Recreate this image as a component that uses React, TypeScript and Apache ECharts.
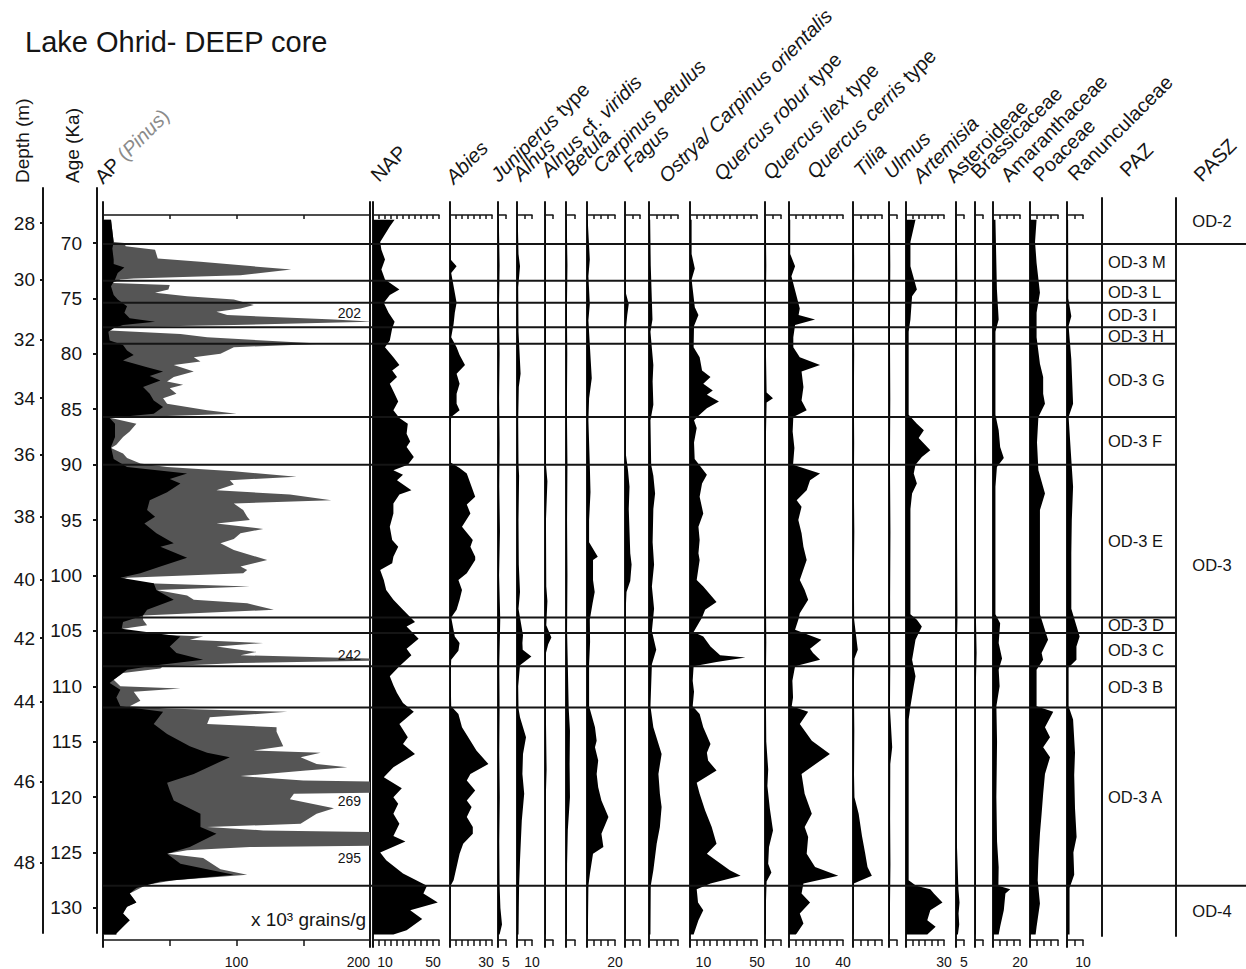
import React, { useEffect, useRef } from 'react';
import * as echarts from 'echarts';

type Sample = [number, number]; // [age (ka), value]

const CHART_TITLE = 'Lake Ohrid- DEEP core';

// ---- axes -------------------------------------------------------------
const AGE_TICKS = [70, 75, 80, 85, 90, 95, 100, 105, 110, 115, 120, 125, 130];
const DEPTH_TICKS = [28, 30, 32, 34, 36, 38, 40, 42, 44, 46, 48];
const DEPTH_TICK_AGES = [68.2, 73.3, 78.75, 84.0, 89.1, 94.7, 100.4, 105.65, 111.4, 118.6, 125.9];

// ---- zonation -------------------------------------------------------
const PAZ_BOUNDARIES = [70.1, 73.4, 75.4, 77.6, 79.1, 85.7, 90.0, 103.8, 105.2, 108.2, 111.9, 128.0];
const PAZ_NAMES = ['', 'OD-3 M', 'OD-3 L', 'OD-3 I', 'OD-3 H', 'OD-3 G', 'OD-3 F', 'OD-3 E', 'OD-3 D', 'OD-3 C', 'OD-3 B', 'OD-3 A', ''];
const PASZ_BOUNDARIES = [70.1, 128.0];
const PASZ_NAMES = ['OD-2', 'OD-3', 'OD-4'];

// ---- arboreal pollen concentration (x 10^3 grains/g) -------------------
const AP_TICK_LABELS = [100, 200];
const AP_TOTAL: Sample[] = [
  [67.9, 6], [69.9, 8], [70.0, 16], [70.3, 17], [70.6, 39], [71.4, 41], [71.7, 73], [72.4, 141], [72.9, 103],
  [73.2, 23], [73.3, 13], [73.6, 7], [73.8, 50], [74.2, 49], [74.5, 39], [74.8, 63], [75.1, 98], [75.6, 113],
  [75.9, 103], [76.2, 85], [76.5, 93], [76.9, 173], [77.1, 202], [77.4, 98], [77.6, 8], [77.9, 5], [78.2, 58],
  [78.5, 78], [79.1, 165], [79.4, 98], [80.0, 88], [80.3, 68], [80.7, 73], [81.0, 53], [81.6, 68], [82.1, 53],
  [82.5, 48], [82.8, 60], [83.1, 50], [83.6, 55], [84.0, 45], [84.5, 48], [85.1, 78], [85.4, 100], [85.6, 48],
  [85.8, 6], [86.3, 25], [87.0, 20], [87.5, 15], [88.2, 10], [88.5, 6], [89.0, 15], [89.4, 18], [89.9, 28],
  [90.2, 48], [90.6, 98], [91.1, 145], [91.4, 95], [91.8, 98], [92.3, 85], [92.7, 140], [93.2, 171], [93.5, 98],
  [94.1, 105], [94.7, 108], [95.0, 110], [95.3, 85], [95.8, 120], [96.2, 103], [96.7, 98], [97.1, 88], [97.7, 98],
  [98.6, 123], [99.2, 103], [99.5, 108], [99.8, 105], [100.2, 18], [100.4, 14], [100.7, 33], [101.0, 110],
  [101.3, 40], [101.8, 63], [102.2, 68], [102.5, 108], [103.1, 128], [103.6, 30], [104.0, 30], [104.5, 33],
  [104.8, 15], [105.2, 14], [105.5, 75], [105.8, 65], [106.1, 120], [106.4, 85], [106.9, 115], [107.2, 103],
  [107.6, 242], [107.9, 103], [108.2, 45], [108.4, 43], [108.8, 15], [109.4, 8], [110.0, 13], [110.2, 58],
  [110.5, 23], [111.3, 28], [111.8, 20], [112.0, 48], [112.3, 138], [112.8, 80], [113.4, 78], [113.7, 130],
  [114.1, 130], [115.4, 135], [115.8, 113], [116.0, 163], [116.4, 148], [117.0, 160], [117.3, 183], [117.6, 152],
  [118.1, 103], [118.5, 150], [118.7, 269], [119.5, 255], [119.7, 143], [120.2, 140], [121.0, 173], [121.5, 160],
  [122.4, 148], [122.7, 78], [123.0, 120], [123.3, 285], [123.8, 295], [124.3, 270], [124.5, 110], [124.8, 63],
  [125.1, 48], [125.5, 75], [126.5, 88], [127.0, 108], [127.5, 53], [127.9, 33], [128.2, 28], [128.7, 20],
  [129.5, 25], [129.9, 18], [130.5, 15], [131.1, 20], [131.7, 15], [132.3, 10], [132.4, 10],
];
const AP_WITHOUT_PINUS: Sample[] = [
  [67.9, 6], [69.9, 8], [70.5, 7], [71.5, 8], [71.9, 8], [72.2, 16], [72.7, 11], [73.3, 9], [73.9, 6], [74.7, 8],
  [75.1, 11], [75.7, 18], [76.3, 16], [76.8, 20], [77.1, 39], [77.4, 15], [77.7, 8], [78.0, 4], [78.8, 5],
  [79.2, 15], [79.7, 18], [80.1, 23], [80.6, 15], [81.2, 33], [81.6, 45], [82.0, 35], [82.4, 43], [83.0, 30],
  [83.6, 35], [84.2, 38], [84.8, 45], [85.4, 38], [85.8, 5], [86.3, 9], [87.5, 9], [88.4, 6], [89.5, 8],
  [90.2, 18], [90.8, 63], [91.3, 50], [91.7, 58], [92.5, 48], [93.2, 35], [94.1, 33], [94.7, 39], [95.3, 31],
  [96.2, 40], [97.1, 53], [97.4, 43], [98.4, 63], [99.2, 43], [99.8, 28], [100.2, 13], [100.7, 38], [101.3, 40],
  [102.2, 53], [103.1, 33], [103.6, 30], [104.2, 15], [104.8, 14], [105.5, 58], [106.4, 50], [107.0, 55],
  [107.6, 75], [108.1, 40], [108.5, 18], [109.4, 8], [109.7, 5], [110.3, 13], [111.0, 10], [111.8, 13],
  [112.3, 45], [113.4, 38], [114.3, 48], [115.4, 65], [116.0, 78], [116.4, 95], [117.9, 68], [118.7, 48],
  [119.4, 50], [120.3, 53], [121.5, 73], [122.7, 73], [123.3, 85], [124.5, 65], [125.1, 48], [126.0, 58],
  [127.0, 98], [127.6, 43], [128.2, 25], [128.7, 20], [129.5, 25], [129.9, 18], [130.5, 15], [131.1, 20],
  [131.7, 15], [132.3, 10], [132.4, 10],
];

// ---- taxa (%) ---------------------------------------------------------
const TAXA = [
  'NAP', 'Abies', 'Juniperus type', 'Alnus', 'Alnus cf. viridis', 'Betula', 'Carpinus betulus', 'Fagus',
  'Ostrya/ Carpinus orientalis', 'Quercus robur type', 'Quercus ilex type', 'Quercus cerris type', 'Tilia',
  'Ulmus', 'Artemisia', 'Asteroideae', 'Brassicaceae', 'Amaranthaceae', 'Poaceae', 'Ranunculaceae',
];
const TICK_LABELS: number[][] = [
  [10, 50], [30], [5], [10], [], [], [20], [], [], [10, 50], [], [10, 40], [], [], [30], [5], [], [20], [], [10],
];

const NAP: Sample[] = [
  [67.9, 18], [68.5, 14], [69.9, 6], [70.6, 7], [71.5, 10], [72.4, 7], [73.3, 10], [74.2, 22], [74.7, 14],
  [75.4, 9], [76.3, 13], [77.1, 18], [77.7, 16], [78.8, 14], [79.4, 10], [80.3, 17], [81.0, 22], [81.5, 16],
  [82.1, 20], [82.7, 14], [83.6, 18], [84.3, 21], [85.1, 17], [85.8, 22], [86.3, 29], [87.2, 28], [87.9, 31],
  [88.4, 28], [89.3, 34], [90.0, 29], [90.5, 17], [90.9, 25], [91.4, 20], [92.3, 32], [92.7, 22], [93.5, 17],
  [94.4, 17], [95.6, 14], [96.8, 16], [97.4, 21], [98.3, 17], [98.9, 16], [99.5, 6], [100.4, 9], [101.3, 11],
  [102.2, 17], [103.1, 25], [104.2, 35], [104.6, 28], [105.7, 38], [106.6, 28], [107.2, 32], [108.2, 22],
  [109.1, 14], [109.9, 17], [110.6, 20], [111.5, 25], [112.3, 34], [113.4, 22], [114.6, 29], [115.2, 25],
  [116.1, 35], [117.3, 17], [118.2, 9], [119.2, 24], [120.0, 17], [120.6, 21], [121.5, 17], [122.4, 22],
  [123.5, 17], [124.0, 27], [125.0, 6], [125.7, 11], [126.9, 25], [128.0, 45], [128.7, 42], [129.5, 54],
  [130.2, 31], [131.0, 41], [132.0, 28], [132.4, 17],
];
const ABIES: Sample[] = [
  [67.9, 0.3], [71.5, 0.5], [72.1, 5.5], [72.7, 1], [74.5, 4], [75.4, 5.5], [76.3, 4], [77.3, 3], [78.5, 1],
  [79.4, 5.5], [80.1, 8], [81.0, 12.5], [81.8, 5.5], [82.7, 8], [83.6, 5.5], [84.5, 5.5], [85.1, 8], [85.7, 1],
  [86.5, 0.5], [89.8, 0.5], [90.3, 8], [90.8, 14], [92.0, 18], [92.9, 21], [93.6, 14], [94.4, 17], [95.6, 10],
  [96.8, 19], [97.4, 17], [98.3, 21], [98.6, 21], [99.8, 14], [100.4, 7], [101.3, 10], [102.2, 8], [103.1, 5.5],
  [103.8, 1], [105.5, 4], [106.1, 8], [106.8, 7], [107.6, 1], [109.0, 0.5], [111.8, 1], [112.5, 7], [113.7, 10],
  [114.9, 17], [115.8, 22], [117.0, 32], [117.9, 17], [118.5, 14], [119.4, 21], [120.3, 14], [120.9, 18],
  [121.8, 14], [122.7, 19], [123.3, 19], [124.2, 11], [125.1, 8], [126.3, 5.5], [127.5, 3], [128.0, 0.5],
  [132.4, 0.3],
];
const JUNIPERUS: Sample[] = [
  [67.9, 0.5], [72, 1], [76, 0.6], [80, 1], [84, 0.7], [88, 1], [92, 0.8], [96, 1.2], [100, 0.7], [104, 1.4],
  [108, 0.8], [112, 1], [116, 0.8], [120, 1.1], [124, 0.8], [128, 1], [130, 1.5], [131.5, 2.5], [132.4, 1],
];
const ALNUS: Sample[] = [
  [67.9, 0.5], [71, 1], [72.1, 2], [74, 0.8], [78, 1], [81.8, 2.4], [83, 1.2], [86, 0.8], [90, 1], [91, 1.4],
  [95, 1], [99, 1.2], [101.5, 2], [103, 1], [105.4, 4], [106.1, 3.6], [106.7, 3.8], [107.3, 9.6], [108.1, 2],
  [110, 0.8], [112, 1], [112.8, 2], [114.6, 6], [116.1, 4], [117.9, 3.6], [119.7, 4.8], [122.1, 3.2],
  [123.9, 2.6], [125.7, 2], [128, 1.4], [130, 1.2], [132.4, 1],
];
const ALNUS_VIRIDIS: Sample[] = [
  [67.9, 0.4], [75, 0.6], [82, 0.5], [90, 0.6], [91.5, 1.5], [95, 0.6], [101, 0.8], [102.3, 1.5], [104.5, 0.8],
  [105.6, 4], [106.2, 2], [107, 0.6], [112, 0.5], [117.5, 1], [120, 0.5], [128, 0.4], [132.4, 0.4],
];
const BETULA: Sample[] = [
  [67.9, 0.4], [72, 0.8], [76, 0.5], [80, 0.7], [85, 0.5], [90, 0.8], [95, 0.6], [100, 0.8], [105, 0.6],
  [108, 1], [112, 1.5], [114, 2.2], [117, 2], [120, 2.2], [123, 1], [126, 0.6], [132.4, 0.5],
];
const CARPINUS_BETULUS: Sample[] = [
  [67.9, 0.5], [71.5, 2], [73, 1], [75.5, 2], [77, 1], [82.2, 3.4], [84, 1.5], [86, 1], [90, 2], [92.5, 2.5],
  [95, 1.5], [97, 1.5], [98.3, 7.7], [98.6, 4.3], [100.4, 4.3], [101.5, 5.5], [102.5, 4], [104, 2], [106, 2.2],
  [108, 1.5], [111.8, 1.5], [113.7, 5.7], [114.9, 6.9], [115.5, 5.7], [116.7, 8], [117.9, 6.9], [119.1, 8],
  [120.3, 10.3], [121.8, 15.3], [123.3, 10.3], [124.5, 11.7], [125.1, 4.3], [126.9, 2.1], [128, 1], [132.4, 0.6],
];
const FAGUS: Sample[] = [
  [67.9, 0.3], [74.5, 0.5], [75.5, 2.5], [76.5, 1.5], [78, 0.4], [85, 0.4], [89, 0.5], [90.5, 2], [92, 3],
  [94, 2.5], [96, 3], [98, 3.5], [99, 4.4], [100.5, 3.5], [101.5, 1], [103, 0.5], [107, 0.4], [115, 0.4],
  [125, 0.3], [132.4, 0.3],
];
const OSTRYA_CARPINUS_ORIENTALIS: Sample[] = [
  [67.9, 0.8], [72, 1.2], [76.9, 2.4], [78, 1], [81, 3], [82.5, 2.5], [84.6, 3], [86, 1], [90, 1.5], [91, 3],
  [92.6, 4.2], [94, 3], [97, 2.5], [99, 3.5], [101, 2], [103, 3.5], [105, 2], [106.7, 5], [108, 2], [111.8, 1],
  [113.7, 3], [116.1, 8.7], [117.9, 6.5], [119.7, 7.5], [120.9, 8.7], [122.7, 7.5], [124.2, 5.3], [126.6, 3],
  [128, 1.2], [132.4, 1],
];
const QUERCUS_ROBUR: Sample[] = [
  [67.9, 1.2], [71, 1.2], [72.3, 3.6], [73.3, 1.2], [75.8, 3.6], [76.5, 6.3], [77.5, 3], [79.4, 2.7],
  [80.3, 7.2], [81.5, 9], [82.1, 15.3], [82.7, 9.9], [83.3, 17], [83.7, 12.6], [84.3, 21.6], [84.9, 12.6],
  [85.5, 7.2], [86, 3], [86.7, 5], [88, 3], [89.5, 3.5], [90.9, 12.6], [91.7, 9], [92.9, 7.2], [94.4, 9.9],
  [95.6, 6.3], [96.8, 7.2], [98.0, 6.3], [98.6, 7.2], [100.4, 5], [101.0, 9.9], [102.4, 19.8], [103.1, 11.3],
  [103.8, 9], [105.1, 2.7], [105.5, 9.9], [106.4, 15.3], [107.2, 22.5], [107.4, 41.4], [107.8, 19.8],
  [108.2, 2.7], [109.5, 2], [110.5, 3], [111.8, 2], [112.5, 7.2], [113.7, 9.9], [115.2, 15.3], [116.0, 12.6],
  [116.7, 13.5], [117.6, 19.8], [118.7, 5], [119.7, 7.2], [121.2, 11.3], [122.7, 16.2], [124.2, 19.8],
  [125.1, 12.6], [126.6, 29.7], [127.1, 37.8], [127.8, 15.3], [128.3, 5], [129.5, 6], [130.2, 9.9],
  [131.1, 6.3], [132.4, 2.7],
];
const QUERCUS_ILEX: Sample[] = [
  [67.9, 0.5], [72, 0.8], [76, 0.5], [80, 0.6], [83.5, 1], [84.0, 5], [84.4, 1], [88, 0.5], [93, 0.6],
  [100, 0.5], [106, 0.8], [110, 0.5], [115, 0.8], [117.5, 2], [119, 1.5], [121, 3], [123.0, 5], [124.5, 2.5],
  [126.0, 2], [126.8, 4], [127.6, 1], [130, 0.5], [132.4, 0.5],
];
const QUERCUS_CERRIS: Sample[] = [
  [67.9, 0.9], [71, 0.9], [72.1, 4.5], [73.0, 1.8], [75.9, 8], [76.5, 7.1], [76.9, 19.3], [77.4, 4.5],
  [78.5, 3.2], [79.4, 3.2], [80.3, 8], [81.0, 23], [81.6, 9.3], [83.0, 10.7], [84.2, 9.3], [85.1, 13.1],
  [85.7, 3.2], [87, 2.7], [88.5, 4], [90, 3], [90.8, 23], [91.4, 15.6], [92.3, 13.1], [93.2, 5.7], [93.8, 9.3],
  [95.0, 6.9], [96.2, 9.3], [97.4, 10.7], [98.6, 13.1], [100.4, 8], [101.3, 11.6], [102.2, 14.2], [103.4, 8],
  [104.0, 6.9], [104.9, 4.5], [105.8, 24], [106.6, 15.6], [107.0, 17.8], [107.6, 23], [108.2, 4.5],
  [109.5, 2.5], [111, 3], [111.8, 2], [112.3, 14.2], [113.4, 8], [114.9, 16.9], [116.1, 30.3], [117.9, 9.3],
  [119.7, 11.6], [121.5, 16.9], [122.7, 11.6], [123.6, 14.2], [125.1, 13.1], [126.3, 19.3], [127.1, 36.5],
  [127.8, 10.7], [128.7, 9.3], [129.5, 15.6], [130.5, 8], [131.4, 10.7], [132.3, 5.7], [132.4, 5],
];
const TILIA: Sample[] = [
  [67.9, 0.6], [72, 0.8], [76, 0.6], [80, 0.8], [84, 0.6], [88, 0.8], [92, 0.6], [96, 0.9], [100, 0.6],
  [104, 0.8], [106.7, 3.3], [107.5, 1], [110, 0.6], [114, 0.9], [118, 0.7], [120, 1], [121.5, 3.9],
  [123.5, 6.2], [125.0, 8.3], [126.3, 10], [127.1, 13], [127.8, 0.5], [130, 0.5], [132.4, 0.4],
];
const ULMUS: Sample[] = [
  [67.9, 0.6], [72, 0.8], [78, 0.6], [84, 0.8], [90, 0.6], [96, 0.9], [102, 0.7], [108, 0.8], [112, 0.6],
  [115.5, 2], [117, 0.8], [122, 0.7], [126, 0.9], [130, 0.6], [132.4, 0.5],
];
const ARTEMISIA: Sample[] = [
  [67.9, 7.5], [69.9, 3.5], [72.1, 3.5], [74.2, 8.6], [74.8, 4.8], [76.9, 3.5], [78, 2.1], [85.5, 2.1],
  [86.3, 8.6], [86.9, 14.1], [87.6, 10], [88.7, 19.2], [89.3, 12.5], [90.0, 7.5], [90.8, 6.1], [91.7, 8.6],
  [92.6, 4.8], [94, 3.5], [100, 3.5], [103.5, 3.5], [104.0, 8.6], [104.6, 12.5], [105.8, 7.5], [107.6, 4.8],
  [109.1, 7.5], [110.0, 6.1], [111.8, 3.5], [113, 2.1], [127.5, 2.1], [128.0, 8], [128.3, 19.2], [128.7, 22],
  [129.5, 28.8], [130.2, 19.2], [131.1, 16.8], [131.7, 23.4], [132.4, 16.8],
];
const ASTEROIDEAE: Sample[] = [
  [67.9, 0.5], [74, 0.8], [80, 0.5], [86, 0.7], [92, 0.5], [98, 0.7], [104, 0.9], [106, 0.6], [112, 0.5],
  [118, 0.7], [124, 0.5], [128.3, 1.5], [129.5, 2.2], [130.5, 1.6], [131.5, 2], [132.4, 1.2],
];
const BRASSICACEAE: Sample[] = [
  [67.9, 0.4], [76, 0.6], [84, 0.4], [90, 0.7], [96, 0.5], [104, 0.6], [107, 1], [110, 0.5], [118, 0.6],
  [126, 0.5], [132.4, 0.4],
];
const AMARANTHACEAE: Sample[] = [
  [67.9, 1.8], [74.2, 2.9], [76.9, 4.2], [78, 1.8], [85.5, 1.8], [86.9, 4.2], [88.4, 5.3], [89.4, 8],
  [90.2, 2.9], [92, 1.8], [103.5, 1.8], [104.3, 5.3], [106.1, 4.2], [107.5, 6.7], [108.5, 4.2], [110.0, 4.9],
  [111.8, 2.5], [115, 3], [120, 2.5], [124, 3], [126.3, 4.2], [128.0, 4], [128.3, 12.8], [128.7, 9.2],
  [130.2, 8], [131.7, 5.3], [132.4, 4.2],
];
const POACEAE: Sample[] = [
  [67.9, 4.7], [69.9, 3.6], [71.8, 4.7], [74.5, 7.1], [76.3, 4.7], [78.5, 4.7], [80.9, 7.1], [82.1, 9.4],
  [83.6, 9.4], [84.5, 10.7], [85.7, 6], [88, 5], [90.5, 6], [92.6, 10.7], [94.1, 7.1], [97.4, 7.1], [100, 7.1],
  [103.5, 7.1], [105.8, 12.9], [107.0, 8.3], [107.6, 9.4], [108.5, 4.7], [111.8, 4.7], [112.3, 16.6],
  [113.7, 10.7], [114.6, 14.3], [115.5, 9.4], [116.4, 14.3], [117.9, 10.7], [119.7, 9.4], [121.5, 8.3],
  [123.3, 7.1], [125.7, 6], [127.5, 5.5], [129.6, 7.1], [131.7, 4.7], [132.4, 4],
];
const RANUNCULACEAE: Sample[] = [
  [67.9, 0.7], [75, 0.8], [76.6, 2.7], [77.5, 1], [80.5, 2.7], [84.5, 3.8], [85.7, 1], [90.2, 3], [92, 3.8],
  [95, 3], [98, 2.7], [103, 2.7], [105.5, 7.9], [106.4, 5.9], [107.6, 5.9], [108.3, 1], [111.8, 1], [113, 3.8],
  [116, 5], [118, 4.5], [121, 5], [123.6, 6], [125, 4], [127, 4.5], [128.2, 1.6], [132.4, 1.6],
];

const PROFILES: Sample[][] = [
  NAP, ABIES, JUNIPERUS, ALNUS, ALNUS_VIRIDIS, BETULA, CARPINUS_BETULUS, FAGUS, OSTRYA_CARPINUS_ORIENTALIS,
  QUERCUS_ROBUR, QUERCUS_ILEX, QUERCUS_CERRIS, TILIA, ULMUS, ARTEMISIA, ASTEROIDEAE, BRASSICACEAE,
  AMARANTHACEAE, POACEAE, RANUNCULACEAE,
];

// ---- layout ------------------------------------------------------------
const W = 1246;
const H = 969;
const INK = '#151515';
const PINUS_GREY = '#555555';
const FONT = '"Liberation Sans", Arial, Helvetica, sans-serif';

const PX_PER_KA = 11.083;
const Y_OF_70KA = 243;
const ageAt = (y: number) => 70 + (y - Y_OF_70KA) / PX_PER_KA;

const COL_TOP = 202;
const COL_BOTTOM = 947;
const SCALE_TOP_Y = 215;
const SCALE_BOTTOM_Y = 940;

const AP_LAYOUT = { left: 103, width: 267, max: 200, interval: 50 };
// left edge, pixel width and scale maximum for each taxon column, plus header anchor
const COLUMN_LAYOUT = [
  { left: 373, width: 66, max: 55, hx: 379, hy: 183 },
  { left: 450, width: 42, max: 35, hx: 454, hy: 185 },
  { left: 498, width: 8, max: 5, hx: 499, hy: 183 },
  { left: 517, width: 15, max: 10, hx: 521, hy: 182 },
  { left: 545, width: 8, max: 5, hx: 549, hy: 178 },
  { left: 566, width: 9, max: 5, hx: 572, hy: 177 },
  { left: 587, width: 28, max: 20, hx: 601, hy: 174 },
  { left: 625, width: 15, max: 10, hx: 631, hy: 173 },
  { left: 649, width: 29, max: 20, hx: 667, hy: 184 },
  { left: 690, width: 67, max: 50, hx: 722, hy: 182 },
  { left: 765, width: 16, max: 10, hx: 771, hy: 181 },
  { left: 789, width: 54, max: 40, hx: 815, hy: 180 },
  { left: 853, width: 29, max: 20, hx: 862, hy: 178 },
  { left: 889, width: 8, max: 5, hx: 892, hy: 180 },
  { left: 906, width: 38, max: 30, hx: 921, hy: 184 },
  { left: 956, width: 8, max: 5, hx: 954, hy: 184 },
  { left: 975, width: 8, max: 5, hx: 979, hy: 180 },
  { left: 993, width: 27, max: 20, hx: 1009, hy: 183 },
  { left: 1030, width: 28, max: 20, hx: 1041, hy: 183 },
  { left: 1067, width: 16, max: 10, hx: 1076, hy: 182 },
];
const OVERFLOW_LABEL_DY = [-9, -5, 18, 19];

const PAZ_LEFT = 1102;
const PASZ_LEFT = 1176;
const ZONE_TOP = 198;
const ZONE_BOTTOM = 936;

const HEADER_SIZE = 20;
const AXIS_TITLE_SIZE = 19;

function headerMarkup(name: string): string {
  if (name === 'NAP' || /eae$/.test(name)) return name;
  return name
    .split(' ')
    .map((w) => (w === 'type' || w === 'cf.' ? w : `{i|${w}}`))
    .join(' ');
}

function buildOption() {
  const grid: any[] = [];
  const xAxis: any[] = [];
  const yAxis: any[] = [];
  const series: any[] = [];
  const elements: any[] = [];

  const addGrid = (left: number, width: number, top: number, bottom: number) => {
    grid.push({ left, top, width, height: bottom - top, containLabel: false, outerBoundsMode: 'none', show: false });
    return grid.length - 1;
  };
  const addY = (gridIndex: number, top: number, bottom: number, extra: any = {}) => {
    yAxis.push({
      gridIndex, type: 'value', inverse: true, min: ageAt(top), max: ageAt(bottom),
      axisLine: { show: false }, axisTick: { show: false }, axisLabel: { show: false }, splitLine: { show: false },
      ...extra,
    });
    return yAxis.length - 1;
  };
  const addHiddenX = (gridIndex: number) => {
    xAxis.push({ gridIndex, type: 'value', min: 0, max: 1, show: false });
    return xAxis.length - 1;
  };
  const line = (w: number) => ({ show: true, onZero: false, lineStyle: { color: INK, width: w } });

  const addColumn = (
    left: number, width: number, max: number, interval: number, labels: number[], rightEdge = false,
  ) => {
    const g = addGrid(left, width, COL_TOP, COL_BOTTOM);
    const y = addY(g, COL_TOP, COL_BOTTOM, { axisLine: line(2) });
    if (rightEdge) addY(g, COL_TOP, COL_BOTTOM, { position: 'right', axisLine: line(2) });
    xAxis.push({
      gridIndex: g, type: 'value', position: 'top', offset: COL_TOP - SCALE_TOP_Y, min: 0, max, interval,
      axisLine: line(1.5), axisTick: { show: true, inside: true, length: 4, lineStyle: { color: INK, width: 1.5 } },
      axisLabel: { show: false }, splitLine: { show: false },
    });
    xAxis.push({
      gridIndex: g, type: 'value', position: 'bottom', offset: SCALE_BOTTOM_Y - COL_BOTTOM, min: 0, max, interval,
      axisLine: line(1.5), axisTick: { show: true, inside: false, length: 6, lineStyle: { color: INK, width: 1.5 } },
      axisLabel: {
        show: true, margin: 15, fontSize: 14, color: INK, fontFamily: FONT, showMinLabel: true, showMaxLabel: true,
        alignMaxLabel: rightEdge ? 'right' : undefined,
        formatter: (v: number) => (labels.includes(v) ? String(v) : ''),
      },
      splitLine: { show: false },
    });
    return { x: xAxis.length - 1, y };
  };

  const addProfile = (axes: { x: number; y: number }, profile: Sample[], fill: string, z: number) => {
    series.push({
      type: 'custom', coordinateSystem: 'cartesian2d', xAxisIndex: axes.x, yAxisIndex: axes.y,
      clip: true, silent: true, z, animation: false,
      data: profile.map(([a, v]) => [v, a]),
      encode: { x: 0, y: 1 },
      renderItem: (params: any, api: any) => {
        if (params.dataIndex !== 0) return null;
        const points = [
          api.coord([0, profile[0][0]]),
          ...profile.map(([a, v]) => api.coord([v, a])),
          api.coord([0, profile[profile.length - 1][0]]),
        ];
        return { type: 'polygon', shape: { points }, style: { fill, stroke: 'none' } };
      },
    });
  };

  // ---- AP concentration panel ----
  const ap = addColumn(AP_LAYOUT.left, AP_LAYOUT.width, AP_LAYOUT.max, AP_LAYOUT.interval, AP_TICK_LABELS, true);
  addProfile(ap, AP_TOTAL, PINUS_GREY, 2);
  addProfile(ap, AP_WITHOUT_PINUS, '#000000', 3);

  // values of clipped AP peaks, written beside the panel edge
  const peaks = AP_TOTAL.filter(
    ([, v], i) =>
      v > AP_LAYOUT.max &&
      v >= (AP_TOTAL[i - 1]?.[1] ?? 0) &&
      v >= (AP_TOTAL[i + 1]?.[1] ?? 0),
  );
  series.push({
    type: 'custom', coordinateSystem: 'cartesian2d', xAxisIndex: ap.x, yAxisIndex: ap.y, silent: true, z: 8,
    data: peaks.map(([a, v], i) => [AP_LAYOUT.max, a, v, i]),
    encode: { x: 0, y: 1 },
    renderItem: (_p: any, api: any) => {
      const pt = api.coord([api.value(0), api.value(1)]);
      return {
        type: 'text', x: pt[0] - 9, y: pt[1] + OVERFLOW_LABEL_DY[api.value(3)],
        style: {
          text: String(api.value(2)), fill: INK, fontSize: 14, fontFamily: FONT,
          align: 'right', verticalAlign: 'middle', textAlign: 'right', textVerticalAlign: 'middle',
        },
      };
    },
  });

  // ---- taxon columns ----
  TAXA.forEach((name, i) => {
    const L = COLUMN_LAYOUT[i];
    const axes = addColumn(L.left, L.width, L.max, 5, TICK_LABELS[i]);
    addProfile(axes, PROFILES[i], '#000000', 3);
    elements.push({
      type: 'text', x: L.hx + 2, y: L.hy + 2, rotation: Math.PI / 4, silent: true,
      style: {
        text: headerMarkup(name), fill: INK, fontSize: HEADER_SIZE, fontFamily: FONT,
        align: 'left', verticalAlign: 'bottom', textAlign: 'left', textVerticalAlign: 'bottom',
        rich: { i: { fontStyle: 'italic', fontSize: HEADER_SIZE, fontFamily: FONT, fill: INK } },
      },
    });
  });

  // ---- zone boundaries across the diagram ----
  const zoneLines = (left: number, right: number, ages: number[]) => {
    const g = addGrid(left, right - left, COL_TOP, COL_BOTTOM);
    const y = addY(g, COL_TOP, COL_BOTTOM);
    const x = addHiddenX(g);
    series.push({
      type: 'custom', coordinateSystem: 'cartesian2d', xAxisIndex: x, yAxisIndex: y, silent: true, z: 10,
      data: ages.map((a) => [0, a]),
      encode: { x: 0, y: 1 },
      renderItem: (params: any, api: any) => {
        const yy = api.coord([0, api.value(1)])[1];
        const cs = params.coordSys;
        return {
          type: 'line', shape: { x1: cs.x, y1: yy, x2: cs.x + cs.width, y2: yy },
          style: { stroke: INK, lineWidth: 2 },
        };
      },
    });
  };
  zoneLines(AP_LAYOUT.left, PASZ_LEFT, PAZ_BOUNDARIES);
  zoneLines(PASZ_LEFT, W, PASZ_BOUNDARIES);

  // ---- PAZ / PASZ label columns ----
  const zoneLabels = (
    left: number, right: number, bounds: number[], names: string[], centred: boolean, frame: boolean,
  ) => {
    const g = addGrid(left, right - left, ZONE_TOP, ZONE_BOTTOM);
    const y = addY(g, ZONE_TOP, ZONE_BOTTOM, frame ? { axisLine: line(2) } : {});
    if (frame) addY(g, ZONE_TOP, ZONE_BOTTOM, { position: 'right', axisLine: line(2) });
    const x = addHiddenX(g);
    const edges = [ageAt(ZONE_TOP), ...bounds, ageAt(ZONE_BOTTOM)];
    series.push({
      type: 'custom', coordinateSystem: 'cartesian2d', xAxisIndex: x, yAxisIndex: y, silent: true, z: 9,
      data: names.map((_, i) => [0.5, (edges[i] + edges[i + 1]) / 2, i]),
      encode: { x: 0, y: 1 },
      renderItem: (params: any, api: any) => {
        const name = names[api.value(2)];
        if (!name) return null;
        const cs = params.coordSys;
        const yy = api.coord([0, api.value(1)])[1];
        const align = centred ? 'center' : 'left';
        return {
          type: 'text', x: centred ? cs.x + cs.width / 2 : cs.x + 6, y: yy,
          style: {
            text: name, fill: INK, fontSize: 16.5, fontFamily: FONT,
            align, verticalAlign: 'middle', textAlign: align, textVerticalAlign: 'middle',
          },
        };
      },
    });
  };
  zoneLabels(PAZ_LEFT, PASZ_LEFT, PAZ_BOUNDARIES, PAZ_NAMES, false, true);
  zoneLabels(PASZ_LEFT, 1248, PASZ_BOUNDARIES, PASZ_NAMES, true, false);

  // ---- depth and age scales ----
  const scaleAxis = (left: number, values: number[], tickLen: number, margin: number, fmt: (v: number) => string) => {
    const g = addGrid(left, 1, 188, 933);
    addHiddenX(g);
    addY(g, 188, 933, {
      axisLine: line(2),
      axisTick: { show: true, length: tickLen, customValues: values, lineStyle: { color: INK, width: 2 } },
      axisLabel: { show: true, customValues: values, margin, fontSize: 19, color: INK, fontFamily: FONT, formatter: fmt },
    });
  };
  scaleAxis(43, DEPTH_TICK_AGES, 3, 8, (v) => {
    let best = 0;
    DEPTH_TICK_AGES.forEach((a, i) => {
      if (Math.abs(a - v) < Math.abs(DEPTH_TICK_AGES[best] - v)) best = i;
    });
    return String(DEPTH_TICKS[best]);
  });
  scaleAxis(97, AGE_TICKS, 4, 15, (v) => String(Math.round(v)));

  // ---- titles ----
  const txt = (x: number, y: number, text: string, extra: any = {}, rotation = 0) => {
    const { style, ...rest } = extra;
    elements.push({
      type: 'text', x, y, rotation, silent: true, ...rest,
      style: {
        text, fill: INK, fontSize: AXIS_TITLE_SIZE, fontFamily: FONT,
        align: 'left', verticalAlign: 'middle', textAlign: 'left', textVerticalAlign: 'middle',
        ...(style || {}),
      },
    });
  };
  const rotatedHeader = { fontSize: HEADER_SIZE, verticalAlign: 'bottom', textVerticalAlign: 'bottom' };
  txt(25, 42, CHART_TITLE, { style: { fontSize: 29 } });
  txt(22, 183, 'Depth (m)', {}, Math.PI / 2);
  txt(72, 183, 'Age (Ka)', {}, Math.PI / 2);
  txt(105, 187, 'AP {g|(}{gi|Pinus}{g|)}', {
    style: {
      ...rotatedHeader,
      rich: {
        g: { fill: '#8a8a8a', fontSize: HEADER_SIZE, fontFamily: FONT },
        gi: { fill: '#8a8a8a', fontSize: HEADER_SIZE, fontFamily: FONT, fontStyle: 'italic' },
      },
    },
  }, Math.PI / 4);
  txt(1130, 180, 'PAZ', { style: rotatedHeader }, Math.PI / 4);
  txt(1204, 185, 'PASZ', { style: rotatedHeader }, Math.PI / 4);
  txt(366, 919, 'x 10³ grains/g', { style: { fontSize: 19, align: 'right', textAlign: 'right' } });

  return {
    animation: false,
    backgroundColor: '#ffffff',
    textStyle: { fontFamily: FONT },
    grid, xAxis, yAxis, series,
    graphic: { elements },
  };
}

export default function App() {
  const ref = useRef<HTMLDivElement>(null);
  useEffect(() => {
    if (!ref.current) return;
    const chart = echarts.init(ref.current, null, { renderer: 'svg', width: W, height: H });
    chart.setOption(buildOption() as any);
    return () => chart.dispose();
  }, []);
  return (
    <div
      ref={ref}
      style={{ position: 'absolute', left: 0, top: 0, width: W, height: H, background: '#fff' }}
    />
  );
}
